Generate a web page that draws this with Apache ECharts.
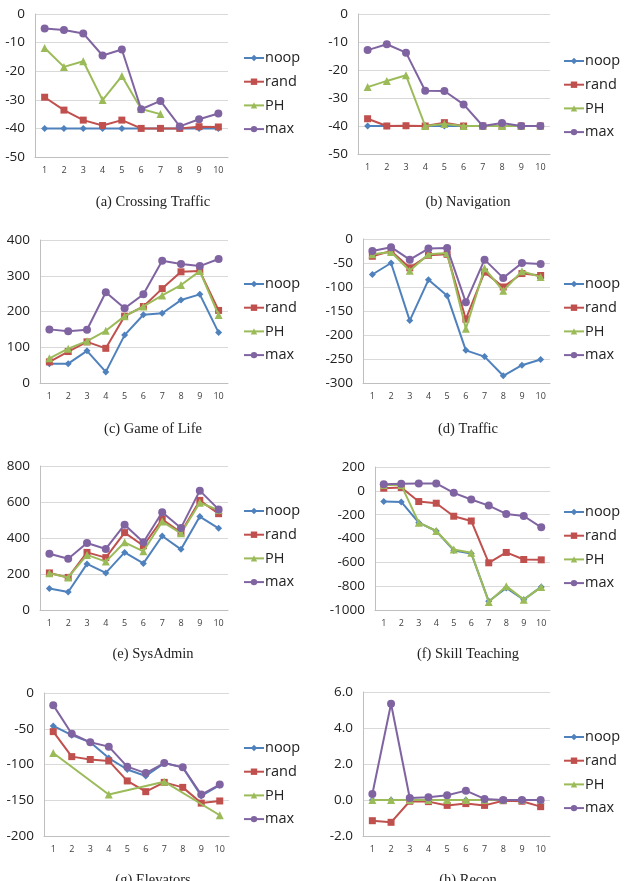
<!DOCTYPE html>
<html>
<head>
<meta charset="utf-8">
<script src="https://cdn.jsdelivr.net/npm/echarts@6/dist/echarts.min.js"></script>
<style>
html,body{margin:0;padding:0;background:#fff;}
#chart{width:627px;height:881px;}
</style>
</head>
<body>
<div id="chart"></div>
<script>
// ---------- DATA ----------
const categories = ['1','2','3','4','5','6','7','8','9','10'];
const seriesNames = ['noop','rand','PH','max'];

// (a) Crossing Traffic
const crossingNoop = [-40,-40,-40,-40,-40,-40,-40,-40,-40,-40];
const crossingRand = [-29.1,-33.6,-37.1,-39.0,-37.1,-40,-40,-40,-39.4,-39.5];
const crossingPH   = [-11.9,-18.5,-16.5,-30.1,-21.7,-33.2,-35.0,null,null,null];
const crossingMax  = [-5.1,-5.6,-6.8,-14.5,-12.4,-33.3,-30.4,-39.3,-36.8,-34.8];

// (b) Navigation
const navNoop = [-40,-40,-40,-40,-40,-40,-40,-40,-40,-40];
const navRand = [-37.4,-40,-39.9,-40,-38.8,-40,-40,-40,-40,-40];
const navPH   = [-26.1,-23.9,-21.9,-40,-39.3,-40,-40,-40,-40,-40];
const navMax  = [-12.9,-10.8,-13.8,-27.4,-27.5,-32.3,-40,-38.9,-40,-40];

// (c) Game of Life
const golNoop = [54,54,90,31,134,191,195,232,248,141];
const golRand = [59,88,115,97,187,214,264,311,313,203];
const golPH   = [69,96,117,146,187,214,245,274,313,190];
const golMax  = [150,145,149,254,209,248,342,333,327,347];

// (d) Traffic
const trafficNoop = [-74,-50,-170,-85,-118,-232,-245,-285,-263,-251];
const trafficRand = [-36,-25,-60,-34,-32,-167,-69,-100,-72,-76];
const trafficPH   = [-32,-27,-66,-32,-29,-187,-61,-108,-67,-79];
const trafficMax  = [-25,-17,-43,-20,-19,-132,-43,-81,-50,-52];

// (e) SysAdmin
const sysNoop = [119,100,256,206,320,259,411,337,519,454];
const sysRand = [206,181,320,291,430,357,504,430,609,535];
const sysPH   = [204,181,306,269,376,326,491,426,596,555];
const sysMax  = [313,285,372,339,474,376,543,456,663,559];

// (f) Skill Teaching
const skillNoop = [-90,-93,-267,-337,-500,-525,-927,-815,-913,-806];
const skillRand = [22,28,-90,-104,-213,-253,-604,-517,-576,-579];
const skillPH   = [48,48,-267,-337,-492,-520,-933,-800,-913,-806];
const skillMax  = [56,59,62,62,-17,-73,-124,-194,-211,-306];

// (g) Elevators
const elevNoop = [-46,-59,-69,-91,-107,-116,-98,-104,-144,-129];
const elevRand = [-54,-89,-93,-95,-123,-138,-125,-132,-154,-151];
const elevPH   = [-84,null,null,-142,null,null,-124,null,null,-171];
const elevMax  = [-17,-57,-69,-75,-103,-112,-98,-104,-142,-128];

// (h) Recon
const reconNoop = [0,0,0,0,0,0,0,0,0,0];
const reconRand = [-1.15,-1.24,-0.07,-0.09,-0.3,-0.2,-0.3,-0.04,-0.07,-0.37];
const reconPH   = [0,0,0,0,0,0,0,0,0,0];
const reconMax  = [0.33,5.35,0.11,0.15,0.26,0.52,0.06,0,0,0];

// y-axis ranges
const yMin = [-50,-50,0,-300,0,-1000,-200,-2];
const yMax = [0,0,400,0,800,200,0,6];
const yStep = [10,10,100,50,200,200,50,2];
const captions = ['(a) Crossing Traffic','(b) Navigation','(c) Game of Life','(d) Traffic',
                  '(e) SysAdmin','(f) Skill Teaching','(g) Elevators','(h) Recon'];

// ---------- LAYOUT / STYLE ----------
const panelData = [
  [crossingNoop,crossingRand,crossingPH,crossingMax],
  [navNoop,navRand,navPH,navMax],
  [golNoop,golRand,golPH,golMax],
  [trafficNoop,trafficRand,trafficPH,trafficMax],
  [sysNoop,sysRand,sysPH,sysMax],
  [skillNoop,skillRand,skillPH,skillMax],
  [elevNoop,elevRand,elevPH,elevMax],
  [reconNoop,reconRand,reconPH,reconMax]
];
const grids = [
  {left:35, top:14, width:193, height:143},
  {left:358, top:14, width:192, height:140},
  {left:40, top:240, width:188, height:143},
  {left:363, top:239, width:187, height:144},
  {left:40, top:466, width:188, height:144},
  {left:375, top:467, width:175, height:143},
  {left:44, top:693, width:185, height:143},
  {left:363, top:692, width:187, height:144}
];
const legendPos = [
  {left:238, top:45},{left:558, top:48},
  {left:238, top:271},{left:558, top:271},
  {left:238, top:498},{left:558, top:499},
  {left:238, top:735},{left:558, top:724}
];
const captionPos = [
  {x:148, y:190},{x:463, y:190},
  {x:148, y:417},{x:463, y:417},
  {x:148, y:642},{x:463, y:642},
  {x:148, y:868},{x:463, y:868}
];
const colors = ['#4F81BD','#C0504D','#9BBB59','#8064A2'];
const symbols = ['diamond','rect','triangle','circle'];
const symbolSizes = [7,7,8,8];

const option = {
  animation:false,
  backgroundColor:'#ffffff',
  grid:[], xAxis:[], yAxis:[], series:[], legend:[], title:[]
};

for (let p = 0; p < 8; p++) {
  option.grid.push(Object.assign({containLabel:false}, grids[p]));
  option.xAxis.push({
    type:'category', gridIndex:p, data:categories, boundaryGap:true,
    axisLine:{show:true, onZero:false, lineStyle:{color:'#BFBFBF', width:1}},
    axisTick:{show:false},
    axisLabel:{fontFamily:'Open Sans', fontSize:9, color:'#404040', margin:9}
  });
  option.yAxis.push({
    type:'value', gridIndex:p, min:yMin[p], max:yMax[p], interval:yStep[p],
    axisLine:{show:true, lineStyle:{color:'#BFBFBF', width:1}},
    axisTick:{show:false},
    splitLine:{show:true, lineStyle:{color:'#D9D9D9', width:1}},
    axisLabel:{fontFamily:'Open Sans', fontSize:13.5, color:'#222', margin:10,
      formatter: p === 7 ? (v => v.toFixed(1)) : (v => String(v))}
  });
  for (let s = 0; s < 4; s++) {
    option.series.push({
      type:'line', name:seriesNames[s], xAxisIndex:p, yAxisIndex:p,
      data:panelData[p][s], connectNulls:(p === 6),
      symbol:symbols[s], symbolSize:symbolSizes[s], showAllSymbol:true,
      lineStyle:{color:colors[s], width:2},
      itemStyle:{color:colors[s]},
      z: 2 + s
    });
  }
  option.legend.push({
    orient:'vertical', left:legendPos[p].left, top:legendPos[p].top,
    data:seriesNames, itemWidth:20, itemHeight:8, itemGap:7.7,
    textStyle:{fontFamily:'Open Sans', fontSize:14.5, color:'#222', lineHeight:16, padding:[0,0,0,-4]},
    selectedMode:false
  });
  option.title.push({
    text:captions[p], left:captionPos[p].x, top:captionPos[p].y, textAlign:'center',
    textStyle:{fontFamily:'Liberation Serif', fontSize:14.5, fontWeight:'normal', color:'#222'}
  });
}

const chart = echarts.init(document.getElementById('chart'), null, {renderer:'canvas'});
chart.setOption(option);
</script>
</body>
</html>
